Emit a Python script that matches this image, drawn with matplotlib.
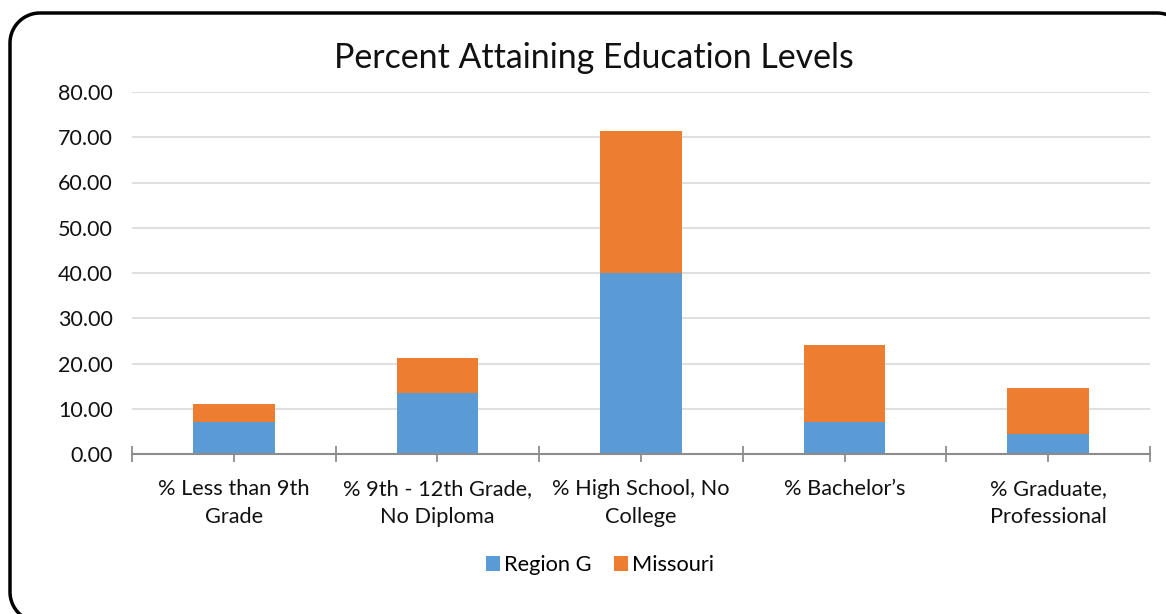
import numpy as np
import matplotlib.pyplot as plt
from matplotlib.lines import Line2D

plt.rcParams['font.family'] = ['Lato', 'DejaVu Sans']

categories = ['% Less than 9th\nGrade', '% 9th - 12th Grade,\nNo Diploma',
              '% High School, No\nCollege', '% Bachelor\u2019s',
              '% Graduate,\nProfessional']
region_g = [7.06, 13.4, 40.05, 7.0, 4.35]
missouri = [3.9, 7.8, 31.35, 17.05, 10.25]

blue = '#5B9BD5'
orange = '#ED7D31'

fig = plt.figure(figsize=(11.66, 6.14), dpi=100)
ax = fig.add_axes([132 / 1166, 1 - 454 / 614, (1150 - 132) / 1166, (454 - 92) / 614])

x = list(range(len(categories)))
ax.bar(x, region_g, width=0.4, color=blue, label='Region G', zorder=3)
ax.bar(x, missouri, width=0.4, bottom=region_g, color=orange, label='Missouri', zorder=3)

ax.set_xlim(-0.5, len(categories) - 0.5)
ax.set_ylim(0, 80)
ax.set_yticks(range(0, 81, 10))
ax.set_yticklabels([f'{v:.2f}' for v in range(0, 81, 10)])
ax.grid(axis='y', color='#d9d9d9', linewidth=1.2, zorder=0)

ax.set_xticks(x)
ax.set_xticklabels(categories, linespacing=1.5)
ax.set_xticks([i - 0.5 for i in range(len(categories) + 1)], minor=True)

for s in ['top', 'right', 'left']:
    ax.spines[s].set_visible(False)
ax.spines['bottom'].set_color('#8c8c8c')
ax.spines['bottom'].set_linewidth(1.5)
ax.spines['bottom'].set_zorder(4)

ax.tick_params(axis='y', length=0, pad=14, labelsize=15.5, labelcolor='#111111')
ax.tick_params(axis='x', which='both', direction='inout', length=12, width=1.3,
               color='#8c8c8c', labelsize=15.7, pad=12, labelcolor='#111111')

fig.text(594 / 1166, 1 - 58 / 614, 'Percent Attaining Education Levels',
         ha='center', va='center', fontsize=24.4, color='#111111')

fig.legend(loc='center', bbox_to_anchor=(600 / 1166, 1 - 565 / 614), ncol=2,
           frameon=False, fontsize=15.7, handlelength=0.65, handleheight=0.65,
           handletextpad=0.2, columnspacing=1.0)

# rounded frame (pixel coords), right and bottom edges run off the picture
r = 30
left, top, right, bottom = 10, 601, 1187, -8
def arc(cx, cy, a0, a1):
    t = np.radians(np.linspace(a0, a1, 30))
    return cx + r * np.cos(t), cy + r * np.sin(t)
parts = [arc(left + r, bottom + r, 270, 180), arc(left + r, top - r, 180, 90),
         arc(right - r, top - r, 90, 0)]
bx = np.concatenate([p[0] for p in parts])
by = np.concatenate([p[1] for p in parts])
fig.lines.append(Line2D(bx, by, transform=None, color='black', linewidth=2.5,
                        solid_capstyle='round'))

fig.savefig('out.png', dpi=100)
